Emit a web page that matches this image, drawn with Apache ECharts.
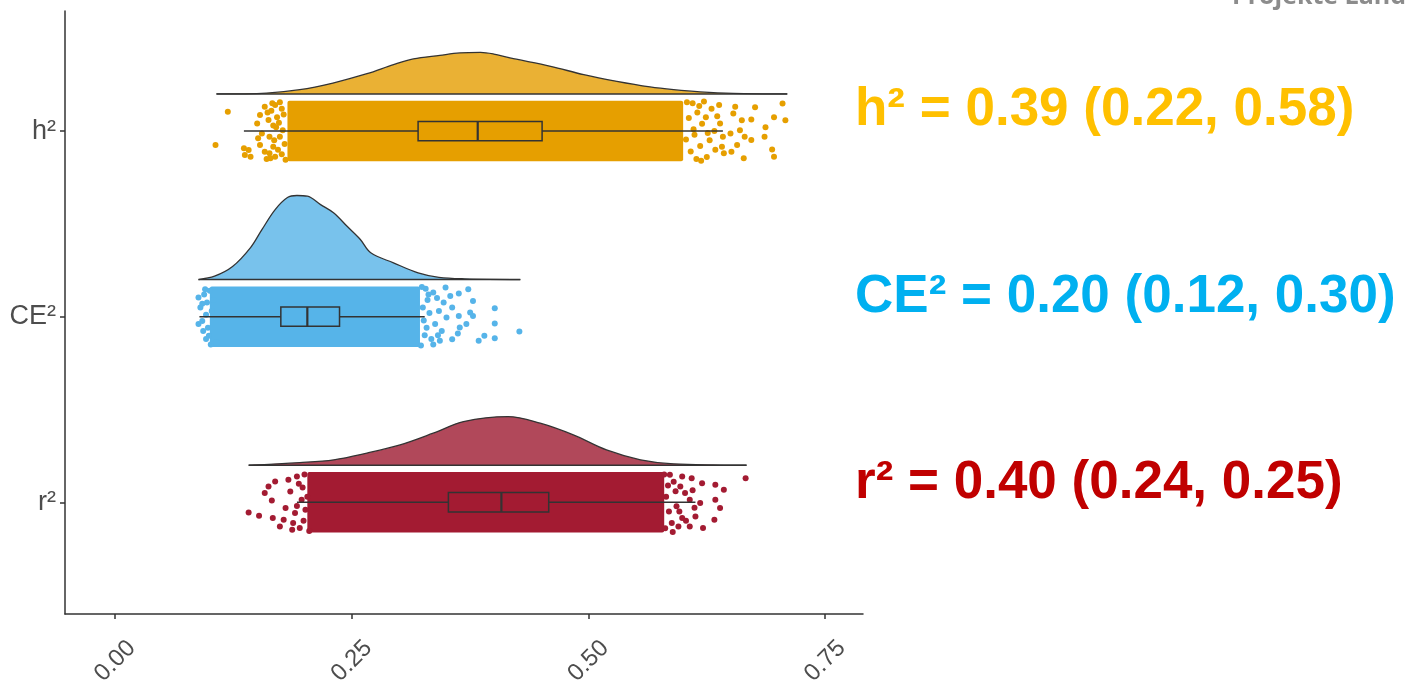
<!DOCTYPE html>
<html>
<head>
<meta charset="utf-8">
<script src="https://cdn.jsdelivr.net/npm/echarts@6/dist/echarts.min.js"></script>
<style>html,body{margin:0;padding:0;background:#fff;}#chart{width:1408px;height:683px;}</style>
</head>
<body>
<div id="chart"></div>
<script>
// ---------- data ----------
const categories = ['r²', 'CE²', 'h²'];          // y positions 1, 2, 3
const xTicks = [0, 0.25, 0.5, 0.75];

// half-violin density outlines: [x, height]
const hDensity = [[0.107,0],[0.160,0.005],[0.195,0.023],[0.230,0.059],[0.266,0.109],[0.294,0.158],[0.315,0.189],[0.343,0.208],[0.364,0.221],[0.386,0.224],[0.400,0.215],[0.417,0.194],[0.460,0.149],[0.495,0.104],[0.530,0.068],[0.565,0.038],[0.590,0.023],[0.618,0.011],[0.653,0.003],[0.710,0]];
const ceDensity = [[0.088,0],[0.105,0.018],[0.124,0.070],[0.143,0.172],[0.155,0.269],[0.169,0.377],[0.182,0.442],[0.192,0.453],[0.203,0.449],[0.217,0.404],[0.231,0.359],[0.245,0.287],[0.259,0.216],[0.270,0.144],[0.294,0.090],[0.320,0.036],[0.342,0.012],[0.369,0.004],[0.428,0]];
const rDensity = [[0.141,0],[0.195,0.014],[0.231,0.029],[0.266,0.065],[0.301,0.109],[0.336,0.172],[0.368,0.235],[0.415,0.262],[0.449,0.226],[0.484,0.163],[0.519,0.082],[0.555,0.029],[0.590,0.007],[0.667,0]];

// box stats: [min, q1, median, q3, max]
const hBox = [0.136, 0.320, 0.383, 0.451, 0.642];
const ceBox = [0.089, 0.175, 0.203, 0.237, 0.327];
const rBox = [0.192, 0.352, 0.408, 0.458, 0.613];

// dense core of the jittered points: [start, end]
const hCore = [0.182, 0.600];
const ceCore = [0.100, 0.322];
const rCore = [0.203, 0.580];

// sparse jittered points at the edges: [x, jitter]
const hPoints = [[0.119,0.104],[0.106,-0.075],[0.136,-0.093],[0.141,-0.102],[0.137,-0.129],[0.143,-0.138],[0.151,-0.039],[0.150,0.041],[0.153,0.086],[0.158,0.131],[0.169,0.140],[0.158,-0.111],[0.164,-0.147],[0.169,-0.138],[0.153,-0.075],[0.155,-0.013],[0.162,0.060],[0.165,0.110],[0.168,-0.050],[0.170,0.020],[0.172,-0.100],[0.166,0.150],[0.171,0.075],[0.160,-0.150],
  [0.174,0.155],[0.176,0.120],[0.178,0.090],[0.173,0.045],[0.177,0.005],[0.174,-0.030],[0.179,-0.070],[0.176,-0.125],[0.180,-0.155],[0.167,0.030],[0.163,-0.030],[0.161,0.100],[0.167,-0.085],[0.163,-0.120],
  [0.655,0.131],[0.676,0.128],[0.705,0.149],[0.708,0.059],[0.696,0.074],[0.687,0.020],[0.686,-0.031],[0.694,-0.099],[0.696,-0.138],[0.664,-0.147],[0.672,-0.048],[0.665,-0.031],[0.662,0.059],[0.672,0.063],[0.651,-0.111],[0.657,-0.075],[0.641,-0.084],[0.643,-0.120],[0.650,-0.013],[0.660,0.005],[0.653,0.095],[0.639,0.041],[0.610,0.150],[0.615,0.100],[0.620,0.040],[0.612,-0.020],[0.618,-0.080],[0.625,-0.140],[0.630,0.120],[0.628,-0.050],[0.622,0.160],[0.633,0.000],[0.614,-0.150],[0.636,0.080],
  [0.604,0.155],[0.606,0.070],[0.603,-0.045],[0.608,-0.110],[0.611,0.010],[0.617,0.135],[0.624,0.075],[0.626,-0.010],[0.619,-0.160],[0.634,-0.100],[0.638,0.140],[0.642,-0.030]];
const cePoints = [[0.088,0.103],[0.090,0.050],[0.092,-0.023],[0.088,-0.040],[0.093,-0.077],[0.099,-0.103],[0.097,0.077],[0.102,0.031],[0.095,0.148],[0.107,-0.139],
  [0.094,0.120],[0.096,0.010],[0.098,-0.060],[0.100,0.140],[0.101,-0.150],[0.096,-0.120],[0.104,0.090],[0.092,0.070],
  [0.373,0.148],[0.363,0.125],[0.378,0.085],[0.401,0.046],[0.427,-0.080],[0.401,-0.037],[0.401,-0.116],[0.390,-0.103],[0.384,-0.130],[0.375,0.023],[0.378,0.004],[0.371,-0.040],[0.364,-0.058],[0.363,0.004],[0.356,0.050],[0.354,0.112],[0.356,-0.121],[0.362,-0.090],[0.350,-0.004],[0.349,0.157],[0.345,-0.077],[0.347,0.077],[0.342,0.031],[0.343,-0.130],[0.336,0.130],[0.338,-0.040],[0.328,0.150],[0.330,0.090],[0.332,0.020],[0.329,-0.060],[0.334,-0.120],[0.336,-0.150],[0.331,0.120],[0.327,-0.100],
  [0.324,0.160],[0.325,0.050],[0.326,-0.020],[0.323,-0.155],[0.340,0.100],[0.341,-0.100]];
const rPoints = [[0.141,-0.055],[0.152,-0.073],[0.1665,-0.085],[0.174,-0.130],[0.158,0.050],[0.1655,0.010],[0.162,0.085],[0.169,0.112],[0.180,-0.031],[0.183,0.121],[0.188,-0.112],[0.185,0.058],[0.192,0.139],[0.190,-0.058],[0.187,-0.148],[0.195,-0.139],[0.178,-0.094],[0.197,0.013],
  [0.200,0.150],[0.198,0.080],[0.201,-0.040],[0.199,-0.100],[0.203,0.030],[0.205,-0.155],[0.194,0.100],[0.192,-0.020],
  [0.666,0.130],[0.643,0.067],[0.634,0.094],[0.639,-0.031],[0.634,0.013],[0.633,-0.094],[0.621,-0.139],[0.618,-0.004],[0.620,0.103],[0.613,-0.076],[0.607,-0.130],[0.609,0.130],[0.599,0.139],[0.607,0.013],[0.597,0.085],[0.599,-0.085],[0.595,-0.130],[0.586,0.148],[0.593,-0.022],[0.602,0.050],[0.588,-0.112],
  [0.580,0.150],[0.584,0.090],[0.582,0.030],[0.585,-0.050],[0.581,-0.140],[0.590,0.110],[0.592,0.060],[0.589,-0.160],[0.596,-0.050],[0.603,-0.100],[0.610,0.065],[0.612,-0.030]];

const annotations = ['h² = 0.39 (0.22, 0.58)', 'CE² = 0.20 (0.12, 0.30)', 'r² = 0.40 (0.24, 0.25)'];
const watermark = 'Projekte Land';

// ---------- styling ----------
const groups = [
  { pos: 3, density: hDensity, box: hBox, core: hCore, points: hPoints, point: '#E69F00', fill: '#EAB134' },
  { pos: 2, density: ceDensity, box: ceBox, core: ceCore, points: cePoints, point: '#56B4E9', fill: '#78C2EC' },
  { pos: 1, density: rDensity, box: rBox, core: rCore, points: rPoints, point: '#A31B32', fill: '#B1485A' }
];
const BASE_OFF = 0.2, BAND = 0.163, BOX_HALF = 0.052;
const INK = '#333333';
const LABEL_FONT = "'Liberation Sans Narrow','Liberation Sans',Arial,sans-serif";

const series = [];
groups.forEach(g => {
  const base = g.pos + BASE_OFF;
  series.push({
    type: 'line', z: 1, smooth: 0.35, showSymbol: false, silent: true,
    data: g.density.map(d => [d[0], base + d[1]]),
    lineStyle: { color: INK, width: 1.3 },
    areaStyle: { color: g.fill, opacity: 1, origin: base }
  });
  series.push({
    type: 'line', z: 1, showSymbol: false, silent: true,
    data: [[g.density[0][0], base], [g.density[g.density.length - 1][0], base]],
    lineStyle: { color: INK, width: 1.5 }
  });
});
series.push({
  type: 'custom', z: 2, silent: true,
  encode: { x: [0, 1], y: 2 },
  data: groups.map(g => [g.core[0], g.core[1], g.pos]),
  renderItem: (params, api) => {
    const p1 = api.coord([api.value(0), api.value(2) + BAND]);
    const p2 = api.coord([api.value(1), api.value(2) - BAND]);
    return { type: 'rect', shape: { x: p1[0], y: p1[1], width: p2[0] - p1[0], height: p2[1] - p1[1], r: 2 },
      style: { fill: groups[params.dataIndex].point } };
  }
});
groups.forEach(g => {
  series.push({
    type: 'scatter', z: 3, silent: true, symbolSize: 6,
    data: g.points.map(p => [p[0], g.pos + p[1]]),
    itemStyle: { color: g.point, opacity: 1 }
  });
});
series.push({
  type: 'custom', z: 4, silent: true,
  encode: { x: [0, 1, 2, 3, 4], y: 5 },
  data: groups.map(g => g.box.concat([g.pos])),
  renderItem: (params, api) => {
    const y = api.value(5);
    const c = v => api.coord([v, y]);
    const top = api.coord([0, y + BOX_HALF])[1], bot = api.coord([0, y - BOX_HALF])[1];
    const mn = c(api.value(0)), q1 = c(api.value(1)), md = c(api.value(2)), q3 = c(api.value(3)), mx = c(api.value(4));
    const ls = { stroke: INK, lineWidth: 1.5, fill: null };
    return { type: 'group', children: [
      { type: 'line', shape: { x1: mn[0], y1: mn[1], x2: q1[0], y2: q1[1] }, style: ls },
      { type: 'line', shape: { x1: q3[0], y1: q3[1], x2: mx[0], y2: mx[1] }, style: ls },
      { type: 'rect', shape: { x: q1[0], y: top, width: q3[0] - q1[0], height: bot - top }, style: ls },
      { type: 'line', shape: { x1: md[0], y1: top, x2: md[0], y2: bot }, style: { stroke: INK, lineWidth: 2.2 } }
    ] };
  }
});

const chart = echarts.init(document.getElementById('chart'));
chart.setOption({
  animation: false,
  backgroundColor: '#ffffff',
  grid: { left: 65, right: 545, top: 11, bottom: 69, containLabel: false, outerBoundsMode: 'none' },
  xAxis: {
    type: 'value', min: -0.053, max: 0.79,
    axisLine: { show: true, onZero: false, lineStyle: { color: INK, width: 1.5 } },
    axisTick: { show: true, customValues: xTicks, length: 5, lineStyle: { color: INK, width: 1.5 } },
    axisLabel: { customValues: xTicks, formatter: v => v.toFixed(2), rotate: 45, align: 'center', verticalAlign: 'middle',
      margin: 47, color: '#4d4d4d', fontSize: 24, fontFamily: LABEL_FONT },
    splitLine: { show: false }
  },
  yAxis: {
    type: 'value', min: 0.398, max: 3.647,
    axisLine: { show: true, onZero: false, lineStyle: { color: INK, width: 1.5 } },
    axisTick: { show: true, customValues: [1, 2, 3], length: 5, lineStyle: { color: INK, width: 1.5 } },
    axisLabel: { customValues: [1, 2, 3], formatter: v => categories[Math.round(v) - 1], margin: 9,
      color: '#4d4d4d', fontSize: 27, fontFamily: LABEL_FONT },
    splitLine: { show: false }
  },
  graphic: [
    { type: 'text', x: 855, y: 110, style: { text: annotations[0], fill: '#FFC000', font: "bold 53px 'Liberation Sans', Arial, sans-serif", verticalAlign: 'middle', align: 'left' } },
    { type: 'text', x: 855, y: 297, style: { text: annotations[1], fill: '#00B0F0', font: "bold 53px 'Liberation Sans', Arial, sans-serif", verticalAlign: 'middle', align: 'left' } },
    { type: 'text', x: 855, y: 483, style: { text: annotations[2], fill: '#C00000', font: "bold 53px 'Liberation Sans', Arial, sans-serif", verticalAlign: 'middle', align: 'left' } },
    { type: 'text', x: 1406, y: -3, style: { text: watermark, fill: '#8c8c8c', font: "bold 25px 'Open Sans', sans-serif", verticalAlign: 'middle', align: 'right' } }
  ],
  series: series
});
</script>
</body>
</html>
